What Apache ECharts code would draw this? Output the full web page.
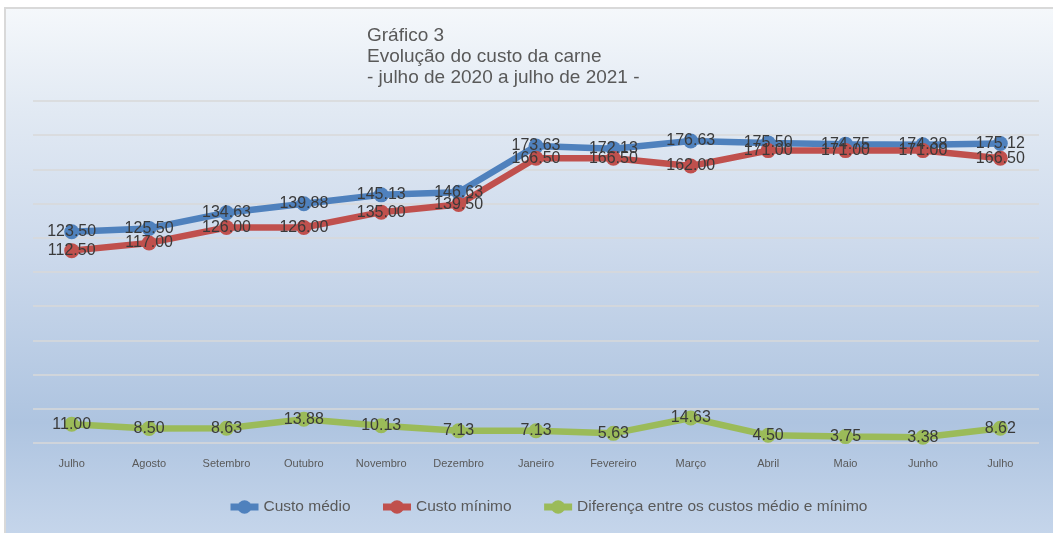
<!DOCTYPE html>
<html>
<head>
<meta charset="utf-8">
<script src="https://cdn.jsdelivr.net/npm/echarts@6/dist/echarts.min.js"></script>
<style>
  html, body { margin: 0; padding: 0; background: #ffffff; }
  #chart { width: 1053px; height: 533px; }
</style>
</head>
<body>
<div id="chart"></div>
<script>
  var months = ['Julho', 'Agosto', 'Setembro', 'Outubro', 'Novembro', 'Dezembro', 'Janeiro',
    'Fevereiro', 'Março', 'Abril', 'Maio', 'Junho', 'Julho'];
  var custoMedio = [123.50, 125.50, 134.63, 139.88, 145.13, 146.63, 173.63, 172.13, 176.63, 175.50, 174.75, 174.38, 175.12];
  var custoMinimo = [112.50, 117.00, 126.00, 126.00, 135.00, 139.50, 166.50, 166.50, 162.00, 171.00, 171.00, 171.00, 166.50];
  var diferenca = [11.00, 8.50, 8.63, 13.88, 10.13, 7.13, 7.13, 5.63, 14.63, 4.50, 3.75, 3.38, 8.62];

  var font = '"Liberation Sans", Arial, sans-serif';
  var ink = '#3a3a3a';
  var muted = '#595959';

  function makeSeries(name, data, color) {
    return {
      type: 'line', name: name, data: data,
      symbol: 'circle', symbolSize: 15,
      lineStyle: { color: color, width: 6.5 },
      itemStyle: { color: color },
      label: {
        show: true, position: 'inside', color: ink,
        fontFamily: font, fontSize: 16,
        formatter: function(p) { return p.value.toFixed(2); }
      }
    };
  }

  var chart = echarts.init(document.getElementById('chart'), null, { renderer: 'canvas' });
  chart.setOption({
    animation: false,
    backgroundColor: '#ffffff',
    graphic: [{
      type: 'rect', z: -10, silent: true,
      shape: { x: 5, y: 8, width: 1060, height: 530 },
      style: {
        stroke: '#d9d9d9', lineWidth: 2,
        fill: new echarts.graphic.LinearGradient(0, 0, 0, 1, [
          { offset: 0, color: '#f5f8fb' },
          { offset: 0.2, color: '#e1e9f3' },
          { offset: 0.45, color: '#cddaec' },
          { offset: 0.78, color: '#aec4e0' },
          { offset: 1, color: '#c6d6eb' }
        ])
      }
    }],
    title: {
      text: 'Gráfico 3\nEvolução do custo da carne\n- julho de 2020 a julho de 2021 -',
      left: 362, top: 20,
      textStyle: { color: muted, fontFamily: font, fontSize: 19, fontWeight: 'normal', lineHeight: 21 }
    },
    legend: {
      left: 227, top: 499, padding: 0,
      itemWidth: 28, itemHeight: 17, itemGap: 29,
      lineStyle: { width: 7 },
      textStyle: { color: muted, fontFamily: font, fontSize: 15.5 },
      data: ['Custo médio', 'Custo mínimo', 'Diferença entre os custos médio e mínimo']
    },
    grid: { left: 33, right: 14, top: 101, bottom: 90 },
    xAxis: {
      type: 'category', data: months, boundaryGap: true,
      axisLine: { show: false }, axisTick: { show: false },
      axisLabel: { color: muted, fontFamily: font, fontSize: 11, margin: 15, interval: 0 }
    },
    yAxis: {
      type: 'value', min: 0, max: 200, interval: 20,
      axisLine: { show: false }, axisTick: { show: false },
      axisLabel: { show: false },
      splitLine: { lineStyle: { color: '#d9d9d9', width: 1.5 } }
    },
    series: [
      makeSeries('Custo médio', custoMedio, '#4f81bd'),
      makeSeries('Custo mínimo', custoMinimo, '#c0504d'),
      makeSeries('Diferença entre os custos médio e mínimo', diferenca, '#9bbb59')
    ]
  });
</script>
</body>
</html>
